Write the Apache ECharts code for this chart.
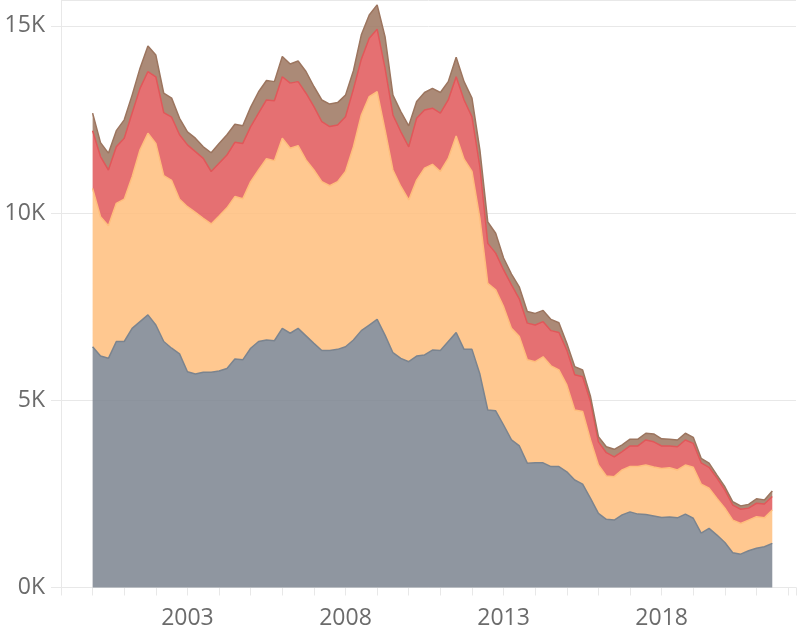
<!DOCTYPE html>
<html>
<head>
<meta charset="utf-8">
<title>Stacked area</title>
<script src="https://cdn.jsdelivr.net/npm/echarts@6/dist/echarts.min.js"></script>
<style>
  html, body { margin: 0; padding: 0; background: #fff; }
  .chart { width: 799px; height: 634px; }
</style>
</head>
<body>
<div class="chart"></div>
<script>
// quarterly values, 2000 Q1 .. 2021 Q3
var axisFirstYear = 1999;
var axisQuarters = 94; // 1999 Q1 .. 2022 Q2
var dataFirstYear = 2000;
var grey = [6430, 6180, 6120, 6570, 6570, 6920, 7100, 7280, 7010, 6570, 6390, 6240, 5760, 5700, 5750, 5750,
    5780, 5850, 6100, 6080, 6390, 6570, 6610, 6590, 6920, 6790, 6920, 6720, 6520, 6330, 6330, 6360,
    6430, 6610, 6860, 7010, 7160, 6740, 6270, 6120, 6030, 6180, 6210, 6340, 6330, 6570, 6810, 6360,
    6360, 5700, 4740, 4720, 4340, 3940, 3780, 3320, 3330, 3330, 3230, 3230, 3090, 2870, 2760, 2380,
    1980, 1820, 1800, 1940, 2020, 1960, 1950, 1910, 1870, 1880, 1860, 1960, 1850, 1450, 1580, 1400,
    1200, 930, 890, 980, 1050, 1090, 1180];
var orange = [4230, 3720, 3540, 3690, 3800, 4050, 4590, 4850, 4850, 4430, 4480, 4130, 4410, 4320, 4110, 3960,
    4140, 4290, 4340, 4300, 4450, 4580, 4840, 4810, 5080, 4940, 4880, 4700, 4630, 4510, 4400, 4480,
    4680, 5160, 5760, 6100, 6080, 5480, 4880, 4590, 4320, 4700, 4990, 4960, 4780, 4890, 5250, 5080,
    4750, 4160, 3380, 3230, 3160, 2980, 2920, 2760, 2700, 2830, 2690, 2580, 2320, 1870, 1940, 1560,
    1290, 1160, 1160, 1200, 1210, 1270, 1320, 1310, 1310, 1320, 1280, 1310, 1360, 1310, 1070, 980,
    920, 870, 820, 820, 840, 770, 890];
var red = [1540, 1610, 1490, 1510, 1630, 1700, 1640, 1650, 1780, 1680, 1690, 1720, 1650, 1620, 1600, 1400,
    1410, 1410, 1450, 1480, 1470, 1520, 1570, 1600, 1640, 1740, 1710, 1780, 1690, 1600, 1580, 1510,
    1460, 1540, 1490, 1560, 1670, 1650, 1470, 1460, 1420, 1650, 1550, 1500, 1560, 1560, 1580, 1580,
    1460, 1370, 1070, 980, 980, 1160, 1000, 980, 980, 940, 940, 1000, 930, 940, 930, 1020,
    620, 620, 530, 490, 550, 550, 670, 670, 600, 580, 620, 670, 640, 570, 560, 540,
    480, 400, 380, 320, 360, 370, 360];
var brown = [470, 370, 450, 430, 490, 480, 540, 680, 580, 520, 510, 440, 350, 360, 310, 500,
    530, 540, 480, 470, 520, 570, 520, 510, 540, 510, 550, 580, 540, 580, 600, 600,
    580, 490, 650, 620, 650, 840, 530, 540, 560, 450, 470, 530, 550, 490, 520, 490,
    500, 460, 570, 530, 320, 290, 320, 310, 310, 300, 300, 260, 180, 220, 180, 140,
    140, 160, 200, 180, 180, 180, 180, 210, 190, 180, 180, 180, 160, 120, 110, 80,
    90, 90, 90, 100, 120, 110, 150];
var yearLabels = ['2003', '2008', '2013', '2018'];

(function(){
    var myChart = echarts.init(document.querySelector('.chart'));
    var font = '"Open Sans", sans-serif';
    var gridColor = '#e8e8e8';

    var quarters = [];
    for (var i = 0; i < axisQuarters; i++) {
        quarters.push((axisFirstYear + Math.floor(i / 4)) + ' Q' + (i % 4 + 1));
    }
    var offset = (dataFirstYear - axisFirstYear) * 4;

    function padded(arr) {
        var out = [];
        for (var i = 0; i < axisQuarters; i++) {
            var k = i - offset;
            out.push(k >= 0 && k < arr.length ? arr[k] : null);
        }
        return out;
    }
    function area(name, arr, color) {
        return {
            name: name,
            type: 'line',
            stack: 'total',
            symbol: 'none',
            data: padded(arr),
            lineStyle: { color: color, width: 1.5 },
            itemStyle: { color: color },
            areaStyle: { color: color, opacity: 0.85 }
        };
    }

    var option = {
        animation: false,
        grid: { left: 61, right: 0, top: 0, bottom: 46.5 },
        xAxis: {
            type: 'category',
            data: quarters,
            boundaryGap: false,
            axisLine: { show: true, lineStyle: { color: gridColor } },
            axisTick: { show: true, length: 8, interval: 3, lineStyle: { color: gridColor } },
            splitLine: { show: false },
            axisLabel: {
                interval: 0,
                margin: 19,
                color: '#6b6b6b',
                fontFamily: font,
                fontSize: 23,
                formatter: function(v){
                    var parts = v.split(' Q');
                    return parts[1] === '1' && yearLabels.indexOf(parts[0]) >= 0 ? parts[0] : '';
                }
            }
        },
        yAxis: {
            type: 'value',
            min: 0,
            max: 15690,
            interval: 5000,
            axisLine: { show: true, lineStyle: { color: gridColor } },
            axisTick: { show: true, length: 10, lineStyle: { color: gridColor } },
            splitLine: { show: true, lineStyle: { color: gridColor } },
            axisLabel: {
                margin: 16,
                color: '#6b6b6b',
                fontFamily: font,
                fontSize: 23,
                showMaxLabel: false,
                formatter: function(v){ return v % 5000 === 0 ? (v / 1000) + 'K' : ''; }
            }
        },
        series: [
            area('grey', grey, '#7b848f'),
            area('orange', orange, '#ffbe7d'),
            area('red', red, '#e15759'),
            area('brown', brown, '#9c755f')
        ]
    };
    myChart.setOption(option);
    window.addEventListener('resize', function(){
        myChart.resize();
    });
})();
</script>
</body>
</html>
